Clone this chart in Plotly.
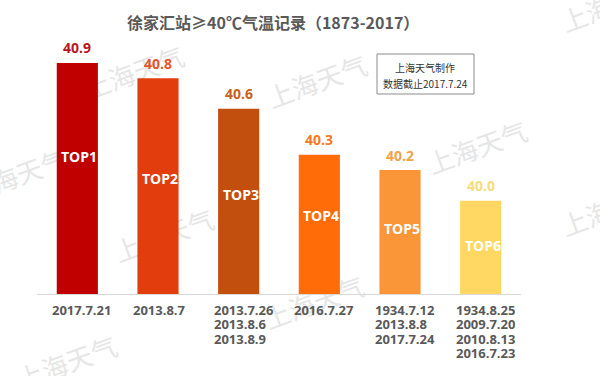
import plotly.graph_objects as go

# ---------------- data ----------------
RANKS = ["TOP1", "TOP2", "TOP3", "TOP4", "TOP5", "TOP6"]
TEMPS = [40.9, 40.8, 40.6, 40.3, 40.2, 40.0]
DATES = [
    ["2017.7.21"],
    ["2013.8.7"],
    ["2013.7.26", "2013.8.6", "2013.8.9"],
    ["2016.7.27"],
    ["1934.7.12", "2013.8.8", "2017.7.24"],
    ["1934.8.25", "2009.7.20", "2010.8.13", "2016.7.23"],
]
TITLE = "徐家汇站≥40℃气温记录（1873-2017）"
NOTE_LINES = ["上海天气制作", "数据截止2017.7.24"]
WATERMARK = "上海天气"

# ---------------- styles ----------------
BAR_COLORS = ["#C00000", "#E23D0D", "#C24F0E", "#FF6C08", "#FA9638", "#FFD762"]
LABEL_COLORS = ["#B8161E", "#E2552A", "#C8611E", "#F27A22", "#F2A247", "#F6DC7A"]
TOP_SHIFT = [94, 100, 86, 61, 58, 45]  # px below bar top for TOPn labels
FONT = "Open Sans, Noto Sans CJK SC, sans-serif"
CJK = "Noto Sans CJK SC, sans-serif"

W, H = 600, 376
ML, MR, MT, MB = 37, 79, 40, 82
PW, PH = W - ML - MR, H - MT - MB


def px2paper(px, py):
    return (px - ML) / PW, (H - MB - py) / PH


fig = go.Figure()
fig.add_trace(go.Bar(
    x=RANKS, y=TEMPS, width=0.51,
    marker=dict(color=BAR_COLORS, line=dict(width=0)),
    hoverinfo="skip",
))

ann = []
# value labels above bars
for r, t, c in zip(RANKS, TEMPS, LABEL_COLORS):
    ann.append(dict(x=r, y=t, xref="x", yref="y", text=f"<b>{t:.1f}</b>",
                    showarrow=False, yanchor="middle", yshift=15,
                    font=dict(family=FONT, size=14, color=c)))
# TOPn labels inside bars
for r, t, s in zip(RANKS, TEMPS, TOP_SHIFT):
    ann.append(dict(x=r, y=t, xref="x", yref="y", text=f"<b>{r}</b>",
                    showarrow=False, yanchor="middle", yshift=-s, xshift=2,
                    font=dict(family=FONT, size=14, color="white")))
# date labels under axis (left-aligned block)
for r, lines in zip(RANKS, DATES):
    for i, d in enumerate(lines):
        ann.append(dict(x=r, y=0, xref="x", yref="paper", text=f"<b>{d}</b>",
                        showarrow=False, yanchor="middle", xanchor="left",
                        xshift=-26, height=13, borderpad=0,
                        yshift=-(15 + i * 14.5),
                        font=dict(family=FONT, size=13, color="#595959")))
# title
tx, ty = px2paper(273, 22)
ann.append(dict(x=tx, y=ty, xref="paper", yref="paper", text=f"<b>{TITLE}</b>",
                showarrow=False, xanchor="center", yanchor="middle",
                font=dict(family=CJK, size=16, color="#595959")))
# note box text
for i, line in enumerate(NOTE_LINES):
    nx, ny = px2paper(425, 67 + i * 16.5)
    ann.append(dict(x=nx, y=ny, xref="paper", yref="paper", text=line,
                    showarrow=False, xanchor="center", yanchor="middle",
                    font=dict(family=CJK, size=10, color="#333333")))

shapes = []
bx0, by0 = px2paper(377, 94)
bx1, by1 = px2paper(474, 54)
shapes.append(dict(type="rect", xref="paper", yref="paper", x0=bx0, x1=bx1,
                   y0=by0, y1=by1, line=dict(color="#8C8C8C", width=1),
                   fillcolor="white", layer="above"))

# watermarks (behind bars)
WM_POS = [(318, 84), (135, 75), (478, 150), (18, 178), (165, 238),
          (68, 365), (315, 305), (612, 212), (612, 8)]
for (wx, wy) in WM_POS:
    cx, cy = px2paper(wx, wy)
    shapes.append(dict(type="rect", xref="paper", yref="paper",
                       x0=cx - 0.005, x1=cx + 0.005, y0=cy - 0.005, y1=cy + 0.005,
                       line=dict(width=0), fillcolor="rgba(0,0,0,0)", layer="below",
                       label=dict(text=WATERMARK, textangle=-20,
                                  textposition="middle center",
                                  font=dict(family=CJK, size=26, color="#E6E6E6"))))

fig.update_layout(
    width=W, height=H,
    margin=dict(l=ML, r=MR, t=MT, b=MB),
    paper_bgcolor="white", plot_bgcolor="rgba(0,0,0,0)",
    showlegend=False,
    bargap=0.49,
    annotations=ann, shapes=shapes,
    xaxis=dict(type="category", range=[-0.5, 5.5], showline=True,
               linecolor="#D9D9D9", linewidth=1, showticklabels=False,
               ticks="", showgrid=False, zeroline=False, fixedrange=True),
    yaxis=dict(range=[39.39, 41.05], visible=False, showgrid=False,
               zeroline=False, fixedrange=True),
)

fig.write_html(
    "out.html",
    config=dict(displayModeBar=False),
    post_script="document.body.style.margin='0';document.body.style.overflow='hidden';",
)
